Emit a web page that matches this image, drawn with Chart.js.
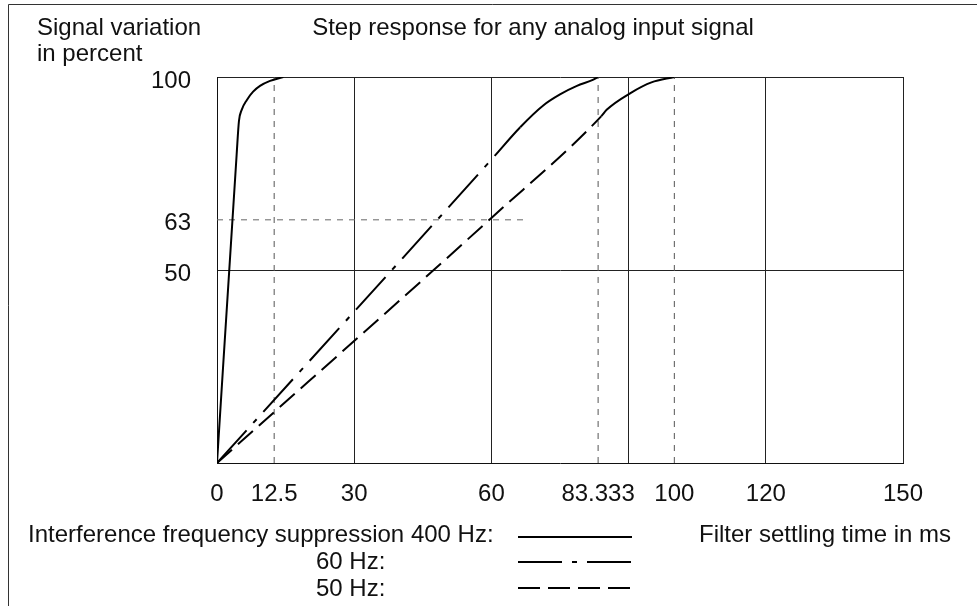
<!DOCTYPE html>
<html><head><meta charset="utf-8">
<script src="https://cdn.jsdelivr.net/npm/chart.js@4/dist/chart.umd.min.js"></script>
<style>html,body{margin:0;padding:0;background:#fff;}canvas{display:block;}</style>
</head><body>
<canvas id="c" width="977" height="606"></canvas>
<script>
// ---- data ----
const xTickValues = [0, 12.5, 30, 60, 83.333, 100, 120, 150];
const xTickLabels = ['0', '12.5', '30', '60', '83.333', '100', '120', '150'];
const xGridValues = [0, 30, 60, 90, 120, 150];
const yTickValues = [0, 50, 63, 100];
const yTickLabels = ['', '50', '63', '100'];
const yGridValues = [50, 100];
const settlingMarks = [12.5, 83.333, 100];
const level63 = 63;
const level63EndX = 68;

const hz400X = [0, 4.3, 4.8, 5.4, 6.5, 7.9, 9.4, 11.6, 14.5];
const hz400Y = [0, 80.0, 88.6, 91.5, 94.0, 96.2, 97.7, 99.0, 100];
const hz60X = [0, 60, 66.3, 71.4, 75, 78.7, 82.3, 83.333];
const hz60Y = [0, 78.6, 87.0, 92.7, 95.5, 97.7, 99.3, 100];
const hz50X = [0, 60, 84, 85.2, 90.5, 95, 100];
const hz50Y = [0, 63.5, 89.8, 91.5, 95.9, 98.6, 100];
const hz60SolidFrom = 66.3;
const hz50SolidFrom = 84;

// ---- styles ----
const FONT_SIZE = 24;
const FONT = FONT_SIZE + 'px "Liberation Sans", Arial, sans-serif';
const TXT = '#111';
const GRID = '#222';
const dashDot = [44, 10, 5, 10];
const dashed = [20, 8];
const refDash = [6, 6];

const pts = (xs, ys) => xs.map((x, i) => ({x, y: ys[i]}));

const datasets = [
  {data: pts(hz400X, hz400Y), borderColor: '#000', borderWidth: 2, pointRadius: 0, cubicInterpolationMode: 'monotone'},
  {data: pts(hz60X, hz60Y), borderColor: '#000', borderWidth: 2, pointRadius: 0, cubicInterpolationMode: 'monotone',
   borderDash: dashDot, segment: {borderDash: c => c.p0.parsed.x >= hz60SolidFrom - 0.01 ? [] : dashDot}},
  {data: pts(hz50X, hz50Y), borderColor: '#000', borderWidth: 2, pointRadius: 0, cubicInterpolationMode: 'monotone',
   borderDash: dashed, segment: {borderDash: c => c.p0.parsed.x >= hz50SolidFrom - 0.01 ? [] : dashed}},
  {data: pts([0, level63EndX], [level63, level63]), borderColor: '#666', borderWidth: 1, pointRadius: 0, borderDash: refDash}
];
settlingMarks.forEach(v => datasets.push({data: pts([v, v], [0, 100]), borderColor: '#555', borderWidth: 1, pointRadius: 0, borderDash: refDash}));

const overlay = {
  id: 'overlay',
  afterDraw(chart) {
    const ctx = chart.ctx;
    ctx.save();
    // outer frame
    ctx.strokeStyle = '#333'; ctx.lineWidth = 1; ctx.setLineDash([]);
    ctx.beginPath(); ctx.moveTo(8.5, 606); ctx.lineTo(8.5, 4.5); ctx.lineTo(977, 4.5); ctx.stroke();
    // texts
    ctx.fillStyle = TXT; ctx.font = FONT; ctx.textBaseline = 'alphabetic'; ctx.textAlign = 'left';
    ctx.fillText('Signal variation', 37, 35);
    ctx.fillText('in percent', 37, 61);
    ctx.textAlign = 'center';
    ctx.fillText('Step response for any analog input signal', 533, 35);
    ctx.textAlign = 'left';
    ctx.fillText('Interference frequency suppression 400 Hz:', 28, 542);
    ctx.fillText('60 Hz:', 316, 569);
    ctx.fillText('50 Hz:', 316, 596);
    ctx.fillText('Filter settling time in ms', 699, 542);
    // legend samples
    ctx.strokeStyle = '#000'; ctx.lineWidth = 2;
    const sample = (y, dash) => { ctx.setLineDash(dash); ctx.beginPath(); ctx.moveTo(518, y); ctx.lineTo(632, y); ctx.stroke(); };
    sample(537, []);
    sample(562, dashDot);
    sample(588, [22, 8]);
    ctx.restore();
  }
};

new Chart(document.getElementById('c'), {
  type: 'line',
  data: {datasets},
  options: {
    responsive: false, animation: false, devicePixelRatio: 1,
    layout: {padding: {top: 77, right: 74, left: 0, bottom: 0}},
    plugins: {legend: {display: false}, tooltip: {enabled: false}, title: {display: false}},
    scales: {
      x: {
        type: 'linear', min: 0, max: 150,
        afterBuildTicks: s => { s.ticks = [...new Set([...xTickValues, ...xGridValues])].sort((a, b) => a - b).map(v => ({value: v})); },
        afterFit: s => { s.height = 143; },
        ticks: {
          autoSkip: false, maxRotation: 0, padding: 17, color: TXT, font: {family: '"Liberation Sans", Arial', size: FONT_SIZE},
          callback: v => { const i = xTickValues.findIndex(t => Math.abs(t - v) < 1e-6); return i >= 0 ? xTickLabels[i] : ''; }
        },
        grid: {drawTicks: false, lineWidth: 1, color: c => (c.tick && xGridValues.some(g => Math.abs(g - c.tick.value) < 1e-6)) ? GRID : 'rgba(0,0,0,0)'},
        border: {display: true, color: '#111', width: 1}
      },
      y: {
        type: 'linear', min: 0, max: 100,
        afterBuildTicks: s => { s.ticks = yTickValues.map(v => ({value: v})); },
        afterFit: s => { s.width = 217; },
        ticks: {
          autoSkip: false, padding: 26, color: TXT, labelOffset: 4, font: {family: '"Liberation Sans", Arial', size: FONT_SIZE},
          callback: v => { const i = yTickValues.indexOf(v); return i >= 0 ? yTickLabels[i] : ''; }
        },
        grid: {drawTicks: false, lineWidth: 1, color: c => (c.tick && yGridValues.includes(c.tick.value)) ? GRID : 'rgba(0,0,0,0)'},
        border: {display: true, color: '#111', width: 1}
      }
    }
  },
  plugins: [overlay]
});
</script>
</body></html>
